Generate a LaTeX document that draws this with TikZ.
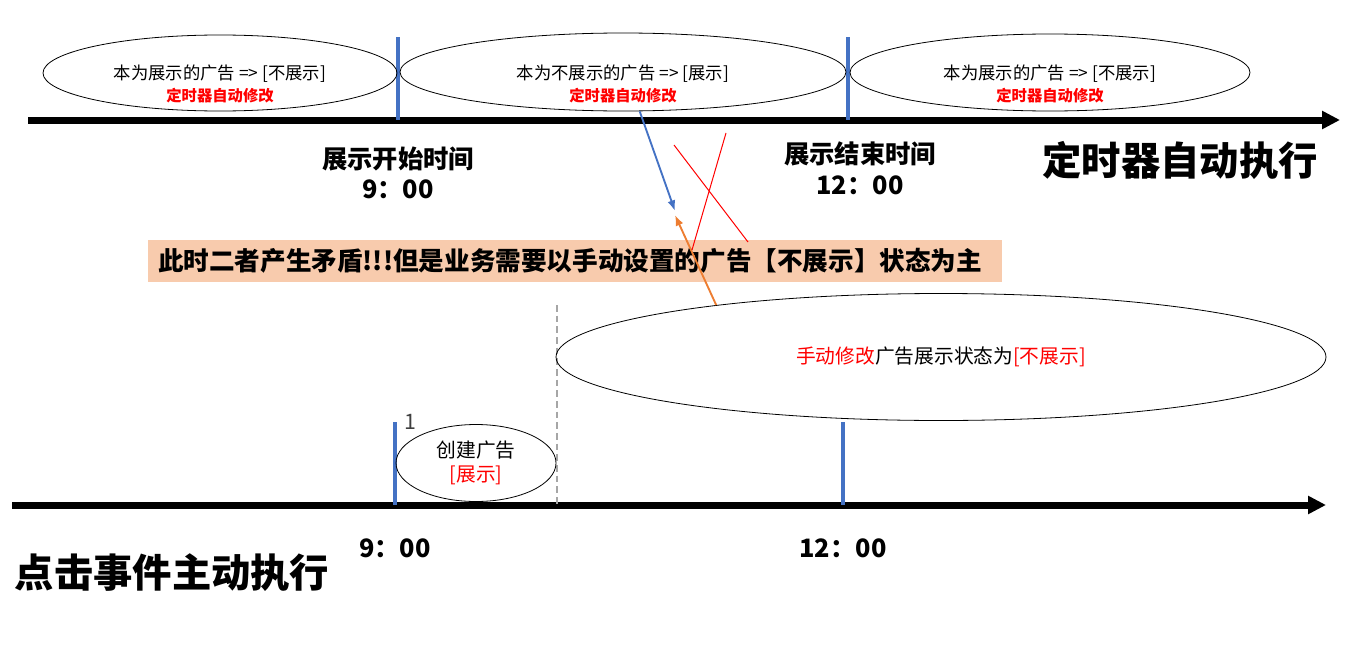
\documentclass[tikz,border=0pt]{standalone}
\usepackage{fontspec}
\setmainfont{Noto Sans CJK SC}
\usepackage{tikz}
\usetikzlibrary{arrows.meta,shapes.geometric}
\definecolor{tickblue}{HTML}{4472C4}
\definecolor{boxorange}{HTML}{F8CBAD}
\definecolor{arroworange}{HTML}{ED7D31}

\begin{document}
\begin{tikzpicture}[x=0.75pt,y=-0.75pt,
    oval/.style={draw,ellipse,inner sep=0pt,line width=0.6pt},
    ovaltext/.style={align=center,font=\fontsize{13}{16.5}\selectfont},
    tick/.style={draw=tickblue,line width=3pt},
    timeline/.style={line width=5.25pt,-{Triangle[length=13.5pt,width=13pt]}},
    timetext/.style={align=center,font=\bfseries\fontsize{19}{23}\selectfont},
    title/.style={font=\bfseries\fontsize{29.5}{35}\selectfont}]
  \useasboundingbox (0,0) rectangle (1353,646);

  % timer line
  \coordinate (t0) at (28,120);
  \coordinate (t1) at (1340,120);
  \draw[timeline] (t0) -- (t1);
  \coordinate (s0) at (398,37);
  \coordinate (s1) at (848,37);
  \draw[tick] (s0) -- (s0 |- t0);
  \draw[tick] (s1) -- (s1 |- t0);

  \node[oval,minimum width=265.5pt,minimum height=57pt] (show1) at (220,73) {};
  \node[ovaltext] (show1text) at (220,84) {本为展示的广告 => [不展示]\\
      \textcolor{red}{\bfseries\fontsize{11.5}{14}\selectfont 定时器自动修改}};
  \node[oval,minimum width=334.5pt,minimum height=58.5pt] (show2) at (623,72) {};
  \node[ovaltext] (show2text) at (623,84) {本为不展示的广告 => [展示]\\
      \textcolor{red}{\bfseries\fontsize{11.5}{14}\selectfont 定时器自动修改}};
  \node[oval,minimum width=300pt,minimum height=57.75pt] (show3) at (1050,72.5) {};
  \node[ovaltext] (show3text) at (1050,84) {本为展示的广告 => [不展示]\\
      \textcolor{red}{\bfseries\fontsize{11.5}{14}\selectfont 定时器自动修改}};

  \node[timetext] (startlbl) at (398,173) {展示开始时间\\9：00};
  \node[timetext] (endlbl) at (860,168) {展示结束时间\\12：00};
  \node[title] (timer) at (1180,160) {定时器自动执行};

  % conflict
  \node[fill=boxorange,minimum width=640.5pt,minimum height=31.5pt,inner xsep=7.5pt,
      text width=625.5pt,align=left,font=\bfseries\fontsize{19.2}{23}\selectfont]
      (conflict) at (575,261) {此时二者产生矛盾!!!但是业务需要以手动设置的广告【不展示】状态为主};

  % click line
  \coordinate (b0) at (12,505);
  \coordinate (b1) at (1326,505);
  \draw[timeline] (b0) -- (b1);
  \coordinate (c0) at (395,422);
  \coordinate (c1) at (843,422);
  \draw[tick] (c0) -- (c0 |- b0);
  \draw[tick] (c1) -- (c1 |- b0);
  \coordinate (d0) at (557,305);
  \draw[gray!70,line width=1.3pt,dash pattern=on 5pt off 3pt] (d0) -- (d0 |- b0);

  \node[oval,minimum width=120pt,minimum height=57.75pt,align=center,
      font=\fontsize{14.8}{18}\selectfont] (create) at (476,463)
      {创建广告\\\textcolor{red}{[展示]}};
  \node[font=\fontsize{16}{18}\selectfont,text=black!75] (one) at (410,422) {1};
  \node[oval,minimum width=577.5pt,minimum height=95.25pt,
      font=\fontsize{14.8}{18}\selectfont] (manual) at (941,357)
      {\textcolor{red}{手动修改}广告展示状态为\textcolor{red}{[不展示]}};

  \node[timetext] (b9) at (395,548) {9：00};
  \node[timetext] (b12) at (843,548) {12：00};
  \node[title] (click) at (172,573) {点击事件主动执行};

  % the two arrows meet
  \coordinate (clash) at (675,213);
  \draw[tickblue,line width=1.4pt,-{Latex[length=8pt,width=6pt]}]
      (show2.-67.7) -- ([yshift=1.5pt]clash);
  \draw[arroworange,line width=1.4pt,-{Latex[length=8pt,width=6pt]}]
      (manual.167.8) -- ([yshift=-1.5pt]clash);
  \draw[red,line width=0.75pt] (674,145) -- (748,242) (726,133) -- (692,250);
\end{tikzpicture}
\end{document}
